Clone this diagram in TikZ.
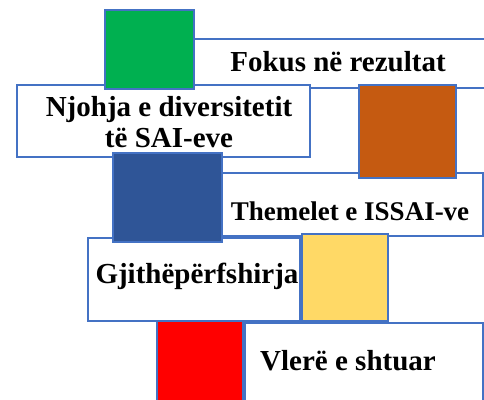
\documentclass[tikz,border=0pt]{standalone}
\usepackage{fontspec}
\setmainfont{Liberation Serif}
\definecolor{edge}{HTML}{4472C4}
\definecolor{cgreen}{HTML}{00B050}
\definecolor{corange}{HTML}{C55A11}
\definecolor{cblue}{HTML}{2F5597}
\definecolor{cyellow}{HTML}{FFD966}
\definecolor{cred}{HTML}{FF0000}
\tikzset{
  box/.style={draw=edge, line width=2.8pt, fill=white},
  sq/.style={draw=edge, line width=2.8pt},
  lbl/.style={font=\fontsize{29}{31}\selectfont\bfseries, inner sep=0pt, align=center, text=black},
}
\begin{document}
\begin{tikzpicture}[x=1pt,y=-1pt]
\useasboundingbox (0,0) rectangle (484,399);
\clip (0,0) rectangle (484,399);
% text boxes
\draw[box] (194,39) rectangle (490,88) coordinate (fokusbox);
\draw[box] (17,85) rectangle (310,157) coordinate (njohbox);
\draw[box] (222,173) rectangle (483,236) coordinate (themebox);
\draw[box] (88,238) rectangle (300,321) coordinate (gjithbox);
\draw[box] (245,323) rectangle (483,410) coordinate (vlerbox);
% squares
\draw[sq, fill=cgreen] (105,10) rectangle (194,89) coordinate (sqgreen);
\draw[sq, fill=corange] (359,85) rectangle (456,178) coordinate (sqorange);
\draw[sq, fill=cblue] (113,153) rectangle (222,242) coordinate (sqblue);
\draw[sq, fill=cyellow] (302,234) rectangle (388,321) coordinate (sqyellow);
\draw[sq, fill=cred] (157,321) rectangle (243,410) coordinate (sqred);
% labels
\node[lbl] (fokus) at (338,62) {Fokus në rezultat};
\node[lbl] (njoh) at (169,122) {Njohja e diversitetit\\të SAI-eve};
\node[lbl, font=\fontsize{27}{29}\selectfont\bfseries] (theme) at (350,211) {Themelet e ISSAI-ve};
\node[lbl] (gjith) at (197,276) {Gjithëpërfshirja};
\node[lbl] (vler) at (348,361) {Vlerë e shtuar};
\end{tikzpicture}
\end{document}
